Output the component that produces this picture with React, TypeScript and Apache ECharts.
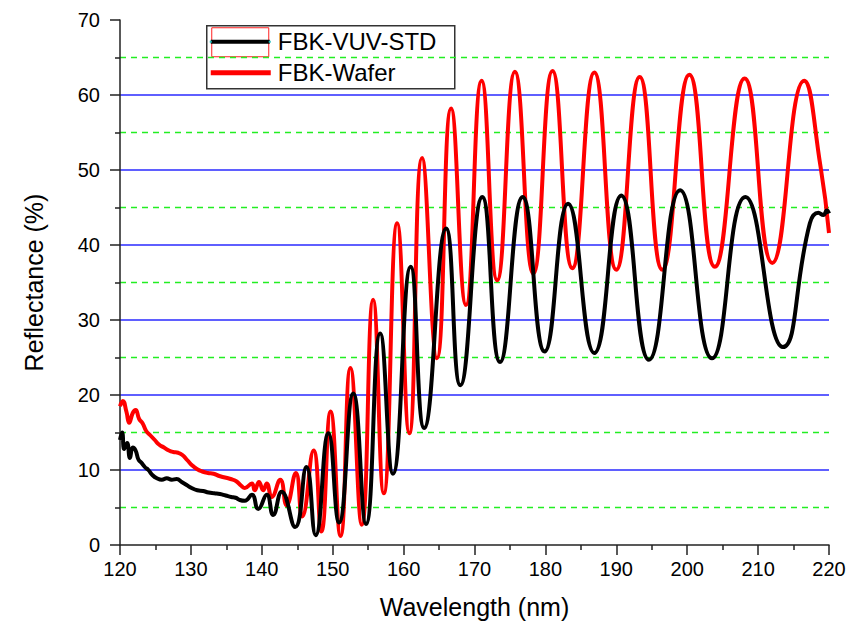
import React, { useEffect, useRef } from "react";
import * as echarts from "echarts";

// Wavelength (nm) and reflectance (%) for each sample
const vuvStdWavelength = [
  120.0, 120.3, 120.6, 121.0, 121.4, 121.8, 122.2, 122.6, 123.0, 123.5, 124.0, 124.6, 125.2, 125.9,
  126.6, 127.3, 128.0, 128.7, 129.4, 130.1, 130.9, 131.7, 132.5, 133.3, 134.1, 134.9, 135.7, 136.3,
  136.9, 137.6, 138.6, 139.5, 140.7, 141.6, 142.8, 144.7, 146.3, 147.6, 149.4, 150.9, 152.9, 154.7,
  156.7, 158.5, 161.0, 162.9, 166.0, 168.0, 171.1, 173.6, 176.8, 179.9, 183.2, 186.9, 190.7, 194.6,
  199.0, 203.5, 208.2, 213.5, 217.3, 218.5, 219.2, 219.7, 220.0,
];
const vuvStdReflectance = [
  14.0, 15.0, 12.8, 13.6, 11.6, 13.0, 12.6, 11.4, 11.0, 10.4, 10.0, 9.3, 8.9, 8.7,
  8.9, 8.7, 8.8, 8.4, 8.0, 7.6, 7.3, 7.2, 7.0, 6.9, 6.8, 6.6, 6.4, 6.3,
  6.0, 5.9, 6.7, 4.8, 6.7, 4.0, 7.1, 2.4, 10.4, 1.3, 14.9, 3.0, 20.2, 2.8,
  28.2, 9.5, 37.1, 15.6, 42.2, 21.3, 46.4, 24.4, 46.4, 25.8, 45.5, 25.6, 46.6, 24.7,
  47.3, 24.9, 46.4, 26.4, 42.9, 44.3, 44.0, 44.6, 44.2,
];

const waferWavelength = [
  120.0, 120.4, 120.9, 121.3, 121.8, 122.2, 122.7, 123.2, 123.7, 124.3, 124.9, 125.5, 126.2, 126.9,
  127.5, 128.2, 128.8, 129.5, 130.2, 130.9, 131.6, 132.4, 133.2, 134.0, 134.8, 135.6, 136.4, 137.1,
  137.6, 138.6, 139.0, 139.6, 140.2, 140.7, 141.4, 142.6, 143.5, 144.8, 145.7, 147.3, 148.4, 149.7,
  151.1, 152.5, 154.1, 155.7, 157.2, 159.1, 160.8, 162.6, 164.7, 166.7, 168.8, 171.0, 173.2, 175.7,
  178.3, 181.0, 183.8, 186.9, 190.0, 193.3, 196.5, 200.3, 203.9, 208.1, 212.0, 216.5, 218.8, 220.0,
];
const waferReflectance = [
  18.5, 19.2, 17.8, 16.3, 17.6, 18.0, 16.8, 16.2, 15.2, 14.6, 14.0, 13.4, 13.0, 12.6,
  12.4, 12.3, 12.0, 11.3, 10.6, 10.1, 9.8, 9.6, 9.5, 9.2, 9.0, 8.8, 8.5, 7.9,
  7.6, 8.2, 7.3, 8.4, 7.3, 8.2, 6.4, 8.7, 5.3, 9.6, 3.8, 12.6, 1.8, 17.8,
  1.2, 23.6, 2.7, 32.7, 6.9, 42.9, 14.9, 51.6, 24.9, 58.2, 32.0, 61.9, 35.3, 63.1,
  36.2, 63.2, 36.9, 63.0, 36.7, 62.4, 36.7, 62.7, 37.1, 62.2, 37.6, 61.9, 50.5, 41.6,
];

const seriesNames = ["FBK-VUV-STD", "FBK-Wafer"];
const xTicks = { min: 120, max: 220, interval: 10 };
const yTicks = { min: 0, max: 70, interval: 10 };

const FONT = "'Liberation Sans', Arial, sans-serif";
const AXIS_COLOR = "#222";
const BLUE = "#2a2aff";
const GREEN = "#22ee22";
const NONE = "rgba(0,0,0,0)";

export default function App() {
  const ref = useRef<HTMLDivElement>(null);

  useEffect(() => {
    if (!ref.current) return;
    const chart = echarts.init(ref.current, undefined, { renderer: "svg" });

    const pairs = (xs: number[], ys: number[]) => xs.map((x, i) => [x, ys[i]]);

    // solid blue lines at the labelled values, except on the axis and at the top edge
    const majorCount = (yTicks.max - yTicks.min) / yTicks.interval + 1;
    const majorColors = Array.from({ length: majorCount }, (_, i) =>
      i === 0 || i === majorCount - 1 ? NONE : BLUE
    );

    const tickStyle = { color: AXIS_COLOR, width: 1.5 };

    chart.setOption({
      animation: false,
      backgroundColor: "#ffffff",
      grid: { left: 120, right: 28, top: 20, bottom: 81 },
      xAxis: {
        type: "value",
        min: xTicks.min,
        max: xTicks.max,
        interval: xTicks.interval,
        name: "Wavelength (nm)",
        nameLocation: "middle",
        nameGap: 49,
        nameTextStyle: { fontFamily: FONT, fontSize: 25, color: "#000" },
        axisLine: { show: true, onZero: false, lineStyle: tickStyle },
        axisTick: { show: true, inside: false, length: 10, lineStyle: tickStyle },
        minorTick: { show: true, splitNumber: 2, length: 5, lineStyle: tickStyle },
        axisLabel: { fontFamily: FONT, fontSize: 20, color: "#000", margin: 14 },
        splitLine: { show: false },
      },
      yAxis: [
        {
          type: "value",
          min: yTicks.min,
          max: yTicks.max,
          interval: yTicks.interval,
          name: "Reflectance (%)",
          nameLocation: "middle",
          nameGap: 74,
          nameTextStyle: { fontFamily: FONT, fontSize: 25, color: "#000" },
          axisLine: { show: true, lineStyle: tickStyle },
          axisTick: { show: true, inside: false, length: 10, lineStyle: tickStyle },
          minorTick: { show: true, splitNumber: 2, length: 5, lineStyle: tickStyle },
          axisLabel: { fontFamily: FONT, fontSize: 20, color: "#000", margin: 20 },
          splitLine: { show: true, lineStyle: { color: majorColors, width: 1.5 } },
          z: 2,
        },
        {
          // unlabelled companion axis carrying the dashed half-step grid lines
          type: "value",
          position: "left",
          min: yTicks.min,
          max: yTicks.max,
          interval: yTicks.interval / 2,
          axisLine: { show: false },
          axisTick: { show: false },
          axisLabel: { show: false },
          splitLine: { show: true, lineStyle: { color: [NONE, GREEN], width: 1.3, type: [6, 5] } },
          z: 1,
        },
      ],
      series: [
        {
          name: seriesNames[1],
          type: "line",
          yAxisIndex: 0,
          data: pairs(waferWavelength, waferReflectance),
          showSymbol: false,
          symbol: "none",
          smooth: 0.5,
          lineStyle: { color: "#ff0000", width: 4 },
          z: 3,
        },
        {
          name: seriesNames[0],
          type: "line",
          yAxisIndex: 0,
          data: pairs(vuvStdWavelength, vuvStdReflectance),
          showSymbol: false,
          symbol: "none",
          smooth: 0.5,
          lineStyle: { color: "#000000", width: 4 },
          z: 4,
        },
      ],
      graphic: [
        {
          type: "group",
          left: 206,
          top: 25,
          z: 100,
          children: [
            {
              type: "rect",
              shape: { x: 0, y: 0, width: 248, height: 63 },
              style: { fill: "#ffffff", stroke: "#333333", lineWidth: 1.5 },
            },
            {
              type: "rect",
              shape: { x: 5, y: 2, width: 57, height: 29 },
              style: { fill: "none", stroke: "#ff2020", lineWidth: 1 },
            },
            {
              type: "line",
              shape: { x1: 4, y1: 16, x2: 63, y2: 16 },
              style: { stroke: "#000000", lineWidth: 4 },
            },
            {
              type: "rect",
              shape: { x: 3, y: 15, width: 2, height: 2 },
              style: { fill: "#20c0c0" },
            },
            {
              type: "rect",
              shape: { x: 62, y: 15, width: 2, height: 2 },
              style: { fill: "#20c0c0" },
            },
            {
              type: "line",
              shape: { x1: 4, y1: 47, x2: 64, y2: 47 },
              style: { stroke: "#ff0000", lineWidth: 5 },
            },
            {
              type: "text",
              x: 71,
              y: 16,
              style: {
                text: seriesNames[0],
                fontFamily: FONT,
                fontSize: 24,
                fill: "#000",
                verticalAlign: "middle",
                align: "left",
              },
            },
            {
              type: "text",
              x: 71,
              y: 47,
              style: {
                text: seriesNames[1],
                fontFamily: FONT,
                fontSize: 24,
                fill: "#000",
                verticalAlign: "middle",
                align: "left",
              },
            },
          ],
        },
      ],
    });

    return () => chart.dispose();
  }, []);

  return (
    <div
      ref={ref}
      style={{ position: "fixed", left: 0, top: 0, width: 857, height: 626 }}
    />
  );
}
